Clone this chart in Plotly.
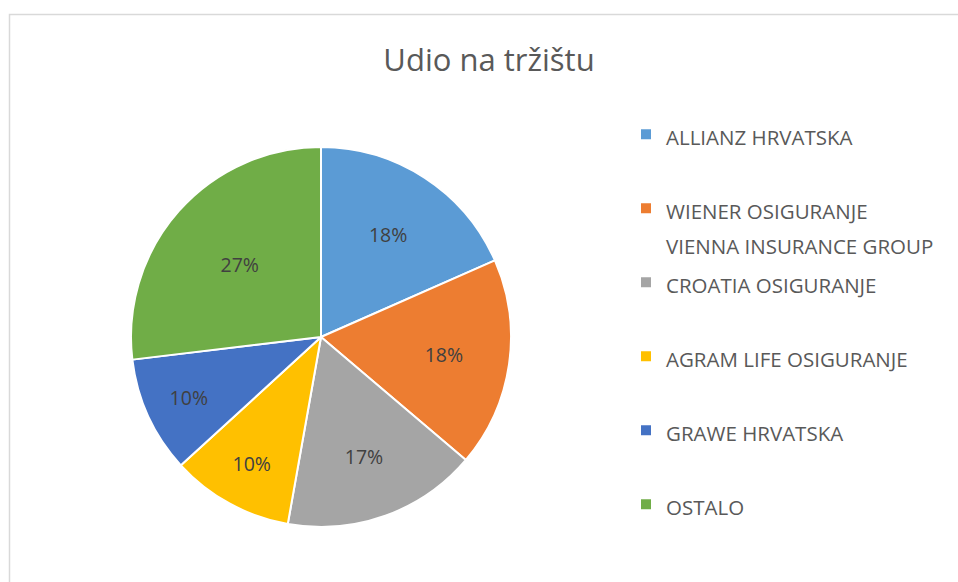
import plotly.graph_objects as go

companies = ["ALLIANZ HRVATSKA", "WIENER OSIGURANJE<br>VIENNA INSURANCE GROUP", "CROATIA OSIGURANJE",
             "AGRAM LIFE OSIGURANJE", "GRAWE HRVATSKA", "OSTALO"]
share = [18.4, 17.8, 16.6, 10.4, 9.9, 26.9]
colors = ["#5B9BD5", "#ED7D31", "#A5A5A5", "#FFC000", "#4472C4", "#70AD47"]

W, H = 958, 582
FONT = "'Open Sans', Lato, sans-serif"

# pad legend labels to two lines so entries are evenly spaced like the reference
legend_labels = []
for c in companies:
    lines = c.split("<br>")
    styled = ["<span style='font-size:20.5px'>" + ln + "</span>" for ln in lines]
    legend_labels.append("<br>".join(styled) + "<br> " * (2 - len(lines)))

fig = go.Figure(go.Pie(
    labels=legend_labels,
    values=share,
    sort=False,
    direction="clockwise",
    rotation=0,
    marker=dict(colors=colors, line=dict(color="white", width=2)),
    texttemplate="%{percent:.0%}",
    textposition="inside",
    insidetextorientation="horizontal",
    textfont=dict(family=FONT, size=19.5, color="#404040"),
    hoverinfo="percent",
    domain=dict(x=[131 / W, 511 / W], y=[1 - 527 / H, 1 - 147 / H]),
))

fig.update_layout(
    width=W, height=H,
    margin=dict(l=0, r=0, t=0, b=0),
    paper_bgcolor="white",
    plot_bgcolor="white",
    title=dict(text="Udio na tržištu", x=489 / W, xanchor="center", y=1 - 60 / H, yanchor="middle",
               font=dict(family=FONT, size=31, color="#595959")),
    legend=dict(x=626 / W, xanchor="left", y=1 - 110 / H, yanchor="top", valign="top",
                font=dict(family=FONT, size=27.3, color="#595959"), bgcolor="rgba(0,0,0,0)"),
    shapes=[dict(type="rect", xref="paper", yref="paper", x0=9.5 / W, x1=1.05, y0=-0.05, y1=1 - 14.5 / H,
                 line=dict(color="#D9D9D9", width=1.5), fillcolor="rgba(0,0,0,0)", layer="below")],
)

fig.write_html("out.html", post_script="document.body.style.margin='0';",
               config={"displayModeBar": False})
